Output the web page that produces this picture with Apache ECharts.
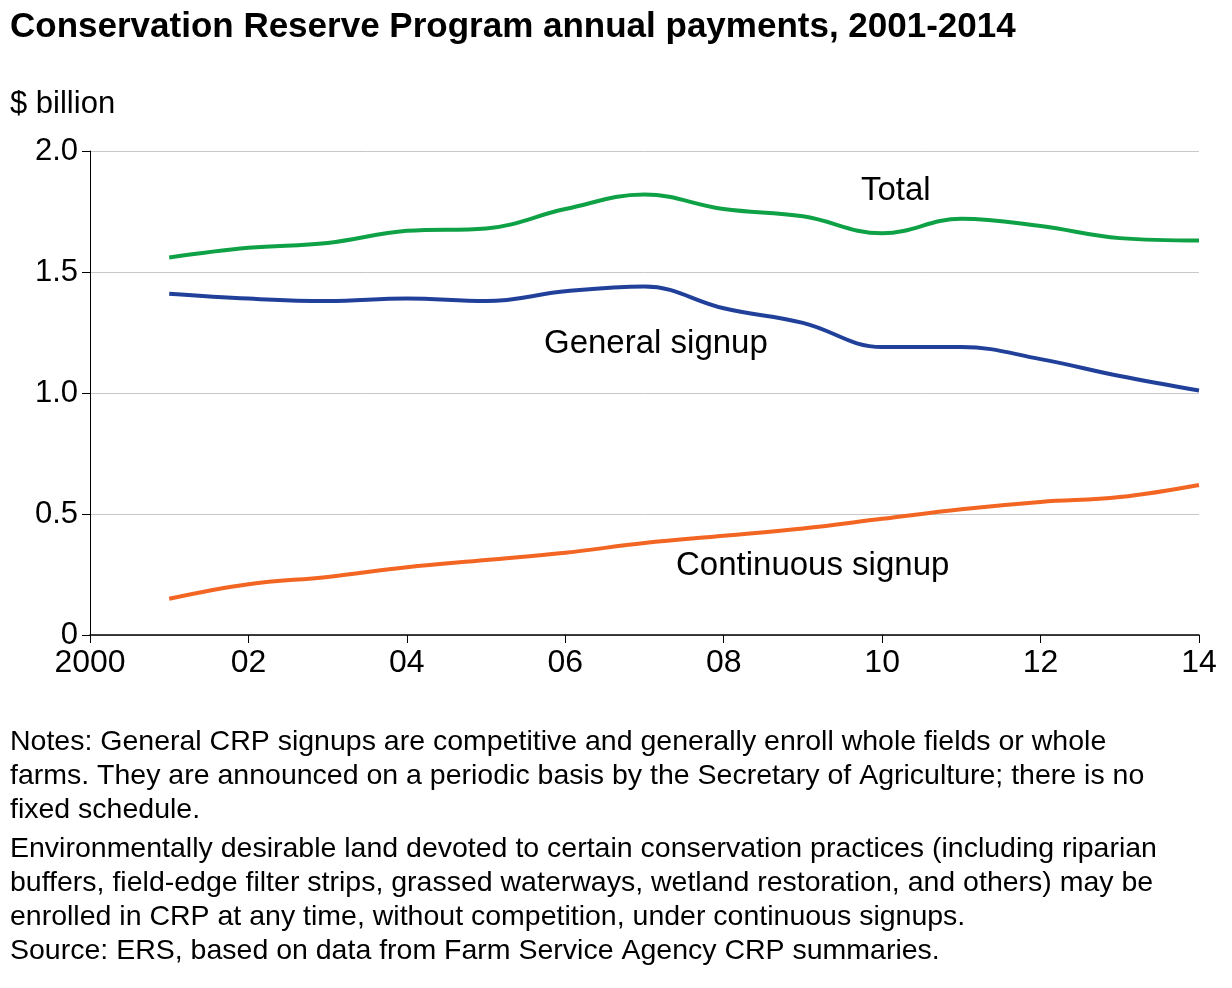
<!DOCTYPE html>
<html><head><meta charset="utf-8">
<script src="https://cdn.jsdelivr.net/npm/echarts@6/dist/echarts.min.js"></script>
<style>body{margin:0;background:#fff}#c{width:1232px;height:988px}</style>
</head><body><div id="c"></div>
<script>
const years=[2001,2002,2003,2004,2005,2006,2007,2008,2009,2010,2011,2012,2013,2014];
const total=[1.56,1.60,1.62,1.67,1.68,1.76,1.82,1.76,1.73,1.66,1.72,1.69,1.64,1.63];
const general=[1.41,1.39,1.38,1.39,1.38,1.42,1.44,1.35,1.29,1.19,1.19,1.14,1.07,1.01];
const continuous=[0.15,0.21,0.24,0.28,0.31,0.34,0.38,0.41,0.44,0.48,0.52,0.55,0.57,0.62];
const F='"Liberation Sans", Arial, sans-serif';
const pair=a=>years.map((y,i)=>[y,a[i]]);
const notes=['Notes: General CRP signups are competitive and generally enroll whole fields or whole',
'farms. They are announced on a periodic basis by the Secretary of Agriculture; there is no',
'fixed schedule.'];
const notes2=['Environmentally desirable land devoted to certain conservation practices (including riparian',
'buffers, field-edge filter strips, grassed waterways, wetland restoration, and others) may be',
'enrolled in CRP at any time, without competition, under continuous signups.',
'Source: ERS, based on data from Farm Service Agency CRP summaries.'];
const ch=echarts.init(document.getElementById('c'));
const line=(name,d,c)=>({name,type:'line',data:pair(d),smooth:0.4,symbol:'none',lineStyle:{color:c,width:4}});
ch.setOption({
 animation:false,
 grid:{left:90,right:33,top:151,bottom:353},
 xAxis:{type:'value',min:2000,max:2014,interval:2,
  axisLine:{lineStyle:{color:'#000',width:1.5}},axisTick:{length:8,lineStyle:{color:'#000'}},
  splitLine:{show:false},
  axisLabel:{color:'#000',fontSize:32,fontFamily:F,margin:12,formatter:v=>v===2000?'2000':String(v).slice(2)}},
 yAxis:{type:'value',min:0,max:2,interval:0.5,
  axisLine:{show:true,lineStyle:{color:'#000',width:1}},axisTick:{show:true,length:8,lineStyle:{color:'#000'}},
  splitLine:{lineStyle:{color:'#c8c8c8'}},
  axisLabel:{color:'#000',fontSize:31,fontFamily:F,margin:12,formatter:v=>v===0?'0':v.toFixed(1)}},
 series:[line('Total',total,'#0fa146'),line('General signup',general,'#21409a'),line('Continuous signup',continuous,'#f26522')],
 graphic:[
  {type:'text',left:10,top:10,style:{text:'Conservation Reserve Program annual payments, 2001-2014',font:'bold 35px '+F,fill:'#000'}},
  {type:'text',left:10,top:89,style:{text:'$ billion',font:'31px '+F,fill:'#000'}},
  {type:'text',left:861,top:174,style:{text:'Total',font:'33px '+F,fill:'#000'}},
  {type:'text',left:544,top:327,style:{text:'General signup',font:'33px '+F,fill:'#000'}},
  {type:'text',left:676,top:549,style:{text:'Continuous signup',font:'33px '+F,fill:'#000'}},
  {type:'text',left:10,top:725,style:{text:notes.join('\n'),font:'28.5px '+F,lineHeight:34,fill:'#000'}},
  {type:'text',left:10,top:832,style:{text:notes2.join('\n'),font:'28.5px '+F,lineHeight:34,fill:'#000'}}
 ]
});
</script></body></html>
